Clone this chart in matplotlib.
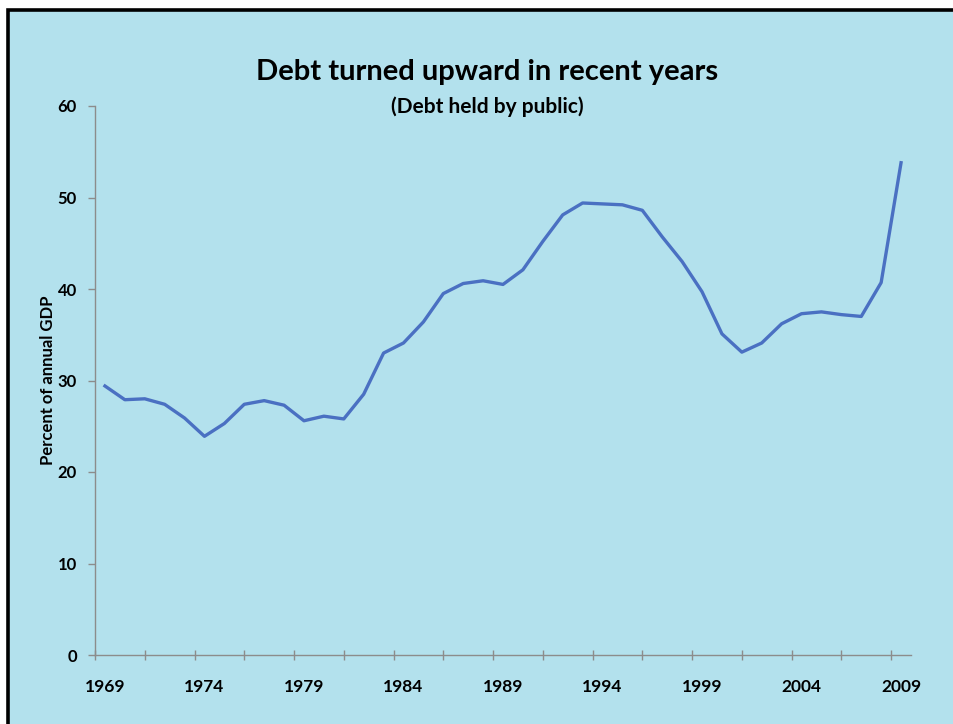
import matplotlib
matplotlib.use("Agg")
import matplotlib.pyplot as plt
from matplotlib.patches import Rectangle
from matplotlib.ticker import FixedLocator, NullFormatter

plt.rcParams['font.family'] = ['Lato', 'DejaVu Sans']

years = list(range(1969, 2010))
debt_pct = [29.4, 27.9, 28.0, 27.4, 25.9, 23.9, 25.3, 27.4, 27.8, 27.3,
            25.6, 26.1, 25.8, 28.5, 33.0, 34.1, 36.4, 39.5, 40.6, 40.9,
            40.5, 42.1, 45.2, 48.1, 49.4, 49.3, 49.2, 48.6, 45.7, 43.0,
            39.7, 35.1, 33.1, 34.1, 36.2, 37.3, 37.5, 37.2, 37.0, 40.7,
            53.8]
x_labels = [1969, 1974, 1979, 1984, 1989, 1994, 1999, 2004, 2009]
y_ticks = [0, 10, 20, 30, 40, 50, 60]

title = "Debt turned upward in recent years"
subtitle = "(Debt held by public)"
ylabel = "Percent of annual GDP"

W, H = 954, 724
fig = plt.figure(figsize=(W / 100, H / 100), dpi=100, facecolor='white')

bg = '#b3e1ed'
fig.patches.append(Rectangle((8 / W, -0.05), 1.2, (H - 10) / H + 0.05,
                             transform=fig.transFigure, facecolor=bg,
                             edgecolor='black', linewidth=2.6, zorder=-10))

ax = fig.add_axes([95 / W, (H - 655) / H, 816 / W, (655 - 106) / H])
ax.set_facecolor('none')
ax.set_zorder(5)

ax.plot(years, debt_pct, color='#4a70c2', linewidth=2.4, solid_joinstyle='round')

ax.set_xlim(1968.5, 2009.5)
ax.set_ylim(0, 60)

for s in ['top', 'right']:
    ax.spines[s].set_visible(False)
for s in ['left', 'bottom']:
    ax.spines[s].set_color('#8c8c8c')
    ax.spines[s].set_linewidth(1.0)

# y axis
ax.set_yticks(y_ticks)
ax.set_yticklabels([str(v) for v in y_ticks], fontsize=12, fontweight='bold')
ax.tick_params(axis='y', direction='out', length=5, width=1.0, color='#8c8c8c', pad=8)

# x axis: marks every 2.5 categories, labels every 5 years
major = [1968.5 + 2.5 * k for k in range(17)]
ax.xaxis.set_major_locator(FixedLocator(major))
ax.xaxis.set_major_formatter(NullFormatter())
ax.xaxis.set_minor_locator(FixedLocator(x_labels))
ax.set_xticklabels([str(v) for v in x_labels], minor=True, fontsize=12.5, fontweight='bold')
ax.tick_params(axis='x', which='major', direction='inout', length=7, width=1.0, color='#8c8c8c')
ax.tick_params(axis='x', which='minor', length=0, pad=17)

ax.set_ylabel(ylabel, fontsize=12, fontweight='bold', labelpad=1.5)

fig.text(487 / W, 1 - 72 / H, title, ha='center', va='center',
         fontsize=21, fontweight='bold')
fig.text(487 / W, 1 - 107 / H, subtitle, ha='center', va='center',
         fontsize=15, fontweight='bold')

fig.savefig('out.png', dpi=100, facecolor='white')
